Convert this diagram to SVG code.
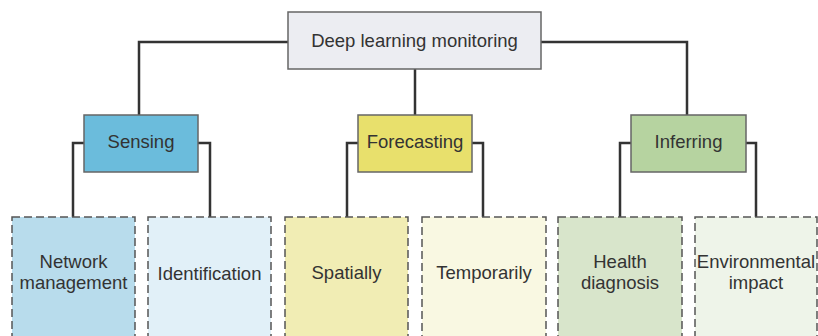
<svg xmlns="http://www.w3.org/2000/svg" width="818" height="336" viewBox="0 0 818 336">
<style>
.t{font-family:"Liberation Sans",Arial,sans-serif;font-size:18.5px;fill:#333;text-anchor:middle}
.solid{stroke:#666;stroke-width:1.5}
.dash{stroke:#555;stroke-width:1.5;stroke-dasharray:8 4}
.c{fill:none;stroke:#333;stroke-width:2.5}
</style>
<rect width="818" height="336" fill="#fff"/>
<g id="connectors">
<path class="c" d="M288,42 H139 V115"/>
<path class="c" d="M541,42 H687 V115"/>
<path class="c" d="M415,69 V115"/>
<path class="c" d="M84,143 H73 V217"/>
<path class="c" d="M198,143 H210 V217"/>
<path class="c" d="M358,143 H347 V217"/>
<path class="c" d="M472,143 H483 V217"/>
<path class="c" d="M631,143 H620 V217"/>
<path class="c" d="M746,143 H756 V217"/>
</g>
<g id="root"><rect class="solid" x="288" y="12" width="253" height="57" fill="#ecedf2"/><text class="t" x="414.5" y="47">Deep learning monitoring</text></g>
<g id="sensing"><rect class="solid" x="84" y="115" width="114" height="57" fill="#6bbcdc"/><text class="t" x="141" y="148">Sensing</text></g>
<g id="forecasting"><rect class="solid" x="358" y="115" width="114" height="57" fill="#e8e06c"/><text class="t" x="415" y="148">Forecasting</text></g>
<g id="inferring"><rect class="solid" x="631" y="115" width="115" height="57" fill="#b6d3a0"/><text class="t" x="688.5" y="148">Inferring</text></g>
<g id="network"><rect class="dash" x="12" y="217" width="123" height="125" fill="#b8dcec"/><text class="t" x="73.5" y="268">Network</text><text class="t" x="73.5" y="289">management</text></g>
<g id="identification"><rect class="dash" x="148" y="217" width="123" height="125" fill="#e1f0f8"/><text class="t" x="209.5" y="280">Identification</text></g>
<g id="spatially"><rect class="dash" x="285" y="217" width="123" height="125" fill="#f1edb4"/><text class="t" x="346.5" y="279">Spatially</text></g>
<g id="temporarily"><rect class="dash" x="422" y="217" width="124" height="125" fill="#f9f8e2"/><text class="t" x="484" y="279">Temporarily</text></g>
<g id="health"><rect class="dash" x="558" y="217" width="124" height="125" fill="#d8e5cb"/><text class="t" x="620" y="268">Health</text><text class="t" x="620" y="289">diagnosis</text></g>
<g id="environmental"><rect class="dash" x="695" y="217" width="122" height="125" fill="#eef4e9"/><text class="t" x="756" y="268">Environmental</text><text class="t" x="756" y="289">impact</text></g>
</svg>
